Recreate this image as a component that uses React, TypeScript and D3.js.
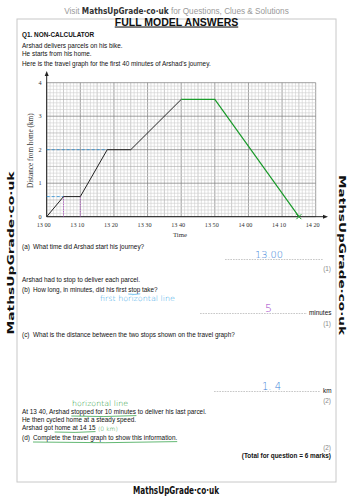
import React from "react";
import * as d3 from "d3";

// Data (minutes after 13:00, distance in km)
const givenTimes = [0, 5, 10, 18, 25, 40];
const givenDist = [0, 0.6, 0.6, 2.0, 2.0, 3.5];
const answerTimes = [40, 50, 75];
const answerDist = [3.5, 3.5, 0];
const xTickLabels = ["13 00", "13 10", "13 20", "13 30", "13 40", "13 50", "14 00", "14 10", "14 20"];
const yTickLabels = ["0", "1", "2", "3", "4"];

const W = 353, H = 500;
const x = d3.scaleLinear().domain([0, 80]).range([46.7, 315.7]);
const y = d3.scaleLinear().domain([0, 4]).range([216.7, 82.7]);

const sans = "'Liberation Sans', Arial, sans-serif";
const serif = "'Liberation Serif', 'Times New Roman', serif";
const hand = "'DejaVu Sans', sans-serif";
const brand = "'DejaVu Sans Condensed', 'DejaVu Sans', sans-serif";

const FS = 6.4;
let ctx: CanvasRenderingContext2D | null = null;
function measure(t: string, size = FS, weight = "normal") {
  if (!ctx) ctx = document.createElement("canvas").getContext("2d");
  if (!ctx) return t.length * size * 0.5;
  ctx.font = `${weight} ${size}px 'Liberation Sans'`;
  return ctx.measureText(t).width;
}

export default function App() {
  const line = d3.line<[number, number]>().x(d => x(d[0])).y(d => y(d[1]));
  const given: [number, number][] = givenTimes.map((t, i) => [t, givenDist[i]]);
  const answer: [number, number][] = answerTimes.map((t, i) => [t, answerDist[i]]);

  const vMinor = d3.range(0, 81, 1);
  const hMinor = d3.range(0, 41, 1);

  const tx = 22;
  const qx = 33;

  const bPre = "How long, in minutes, did his first ";
  const bStopX = qx + measure(bPre);
  const bStopW = measure("stop");
  const dPre = "At 13 40, Arshad ";
  const dStX = tx + measure(dPre);
  const dStW = measure("stopped for 10 minutes");
  const hPre = "Arshad got ";
  const hX = tx + measure(hPre);
  const hW = measure("home at 14 15");
  const cW = measure("Complete the travel graph to show this information.");

  const minor = "#cfcfcf", mid = "#a8a8a8", major = "#888888";

  return (
    <svg width={W} height={H} style={{ position: "absolute", left: 0, top: 0, background: "#fff" }}>
      <rect x={0} y={0} width={W} height={H} fill="#fff" />
      {/* header */}
      <text x={176.5} y={14} textAnchor="middle" fontFamily={sans} fontSize={8.2} fill="#999">
        Visit <tspan fontWeight="bold" fill="#333" fontFamily={brand}>MathsUpGrade·co·uk</tspan> for Questions, Clues &amp; Solutions
      </text>
      <rect x={17} y={19} width={319} height={463} fill="none" stroke="#c8c8c8" strokeWidth={1} />
      <text x={176.5} y={25.5} textAnchor="middle" fontFamily={sans} fontSize={10.5} fontWeight="bold" textDecoration="underline" fill="#111">
        FULL MODEL ANSWERS
      </text>
      {/* side branding */}
      <text transform="translate(14,253) rotate(-90)" textAnchor="middle" fontFamily={brand} fontSize={9.5} fontWeight="bold" fill="#111"
        textLength={163} lengthAdjust="spacingAndGlyphs">MathsUpGrade·co·uk</text>
      <text transform="translate(339,255) rotate(90)" textAnchor="middle" fontFamily={brand} fontSize={9.5} fontWeight="bold" fill="#111"
        textLength={160} lengthAdjust="spacingAndGlyphs">MathsUpGrade·co·uk</text>
      <text x={176} y={494} textAnchor="middle" fontFamily={brand} fontSize={10.5} fontWeight="bold" fill="#111"
        textLength={86} lengthAdjust="spacingAndGlyphs">MathsUpGrade·co·uk</text>

      <g fontFamily={sans} fontSize={FS} fill="#111">
        <text x={tx} y={37} fontWeight="bold">Q1. NON-CALCULATOR</text>
        <text x={tx} y={48}>Arshad delivers parcels on his bike.</text>
        <text x={tx} y={55.5}>He starts from his home.</text>
        <text x={tx} y={65.5}>Here is the travel graph for the first 40 minutes of Arshad's journey.</text>
      </g>

      {/* grid */}
      <g>
        {vMinor.map(v => (
          <line key={"v" + v} x1={x(v)} x2={x(v)} y1={y(0)} y2={y(4)}
            stroke={v % 10 === 0 ? major : v % 5 === 0 ? mid : minor} strokeWidth={v % 10 === 0 ? 0.8 : 0.6} />
        ))}
        {hMinor.map(i => (
          <line key={"h" + i} x1={x(0)} x2={x(80)} y1={y(i / 10)} y2={y(i / 10)}
            stroke={i % 10 === 0 ? major : i % 5 === 0 ? mid : minor} strokeWidth={i % 10 === 0 ? 0.8 : 0.6} />
        ))}
      </g>
      {/* axes */}
      <line x1={x(0)} x2={x(0)} y1={y(0)} y2={74} stroke="#222" strokeWidth={1} />
      <path d={`M${x(0)},71 L${x(0) - 2},76 L${x(0) + 2},76 Z`} fill="#222" />
      <line x1={x(0)} x2={325} y1={y(0)} y2={y(0)} stroke="#222" strokeWidth={1} />
      <path d={`M328,${y(0)} L323,${y(0) - 2} L323,${y(0) + 2} Z`} fill="#222" />

      <g fontFamily={serif} fontSize={6.2} fill="#333">
        {yTickLabels.map((l, i) => (
          <text key={l} x={x(0) - 5} y={y(i) + 2} textAnchor="end">{l}</text>
        ))}
        {xTickLabels.map((l, i) => (
          <text key={l} x={x(i * 10) - 3} y={226.5} textAnchor="middle">{l}</text>
        ))}
        <text x={180} y={237} textAnchor="middle" fontSize={6.8}>Time</text>
        <text transform={`translate(32.5,${y(2) + 1}) rotate(-90)`} textAnchor="middle" fontSize={7.2}>Distance from home (km)</text>
      </g>

      {/* helper lines */}
      <line x1={x(0)} x2={x(18)} y1={y(2)} y2={y(2)} stroke="#2b8fd6" strokeWidth={0.8} strokeDasharray="3,2" />
      <line x1={x(0)} x2={x(5)} y1={y(0.6)} y2={y(0.6)} stroke="#2b8fd6" strokeWidth={0.8} strokeDasharray="3,2" />
      <line x1={x(5)} x2={x(5)} y1={y(0.6)} y2={y(0)} stroke="#b040c8" strokeWidth={0.8} strokeDasharray="1.2,1.2" />
      <line x1={x(10)} x2={x(10)} y1={y(0.6)} y2={y(0)} stroke="#b040c8" strokeWidth={0.8} strokeDasharray="1.2,1.2" />

      <path d={line(given) || ""} fill="none" stroke="#222" strokeWidth={1} />
      <path d={line(answer) || ""} fill="none" stroke="#1a9a2a" strokeWidth={1.2} />
      <g stroke="#1a9a2a" strokeWidth={1}>
        <line x1={x(75) - 2.5} x2={x(75) + 2.5} y1={y(0) - 2.5} y2={y(0) + 2.5} />
        <line x1={x(75) - 2.5} x2={x(75) + 2.5} y1={y(0) + 2.5} y2={y(0) - 2.5} />
      </g>

      {/* questions */}
      <g fontFamily={sans} fontSize={FS} fill="#111">
        <text x={tx} y={249}>(a)</text>
        <text x={qx} y={249}>What time did Arshad start his journey?</text>
        <text x={tx} y={282}>Arshad had to stop to deliver each parcel.</text>
        <text x={tx} y={292}>(b)</text>
        <text x={qx} y={292}>{bPre + "stop take?"}</text>
        <text x={309} y={315}>minutes</text>
        <text x={tx} y={337}>(c)</text>
        <text x={qx} y={337}>What is the distance between the two stops shown on the travel graph?</text>
        <text x={323} y={393}>km</text>
        <text x={tx} y={414}>At 13 40, Arshad stopped for 10 minutes to deliver his last parcel.</text>
        <text x={tx} y={422}>He then cycled home at a steady speed.</text>
        <text x={tx} y={430}>Arshad got home at 14 15</text>
        <text x={tx} y={440}>(d)</text>
        <text x={qx} y={440}>Complete the travel graph to show this information.</text>
        <text x={331} y={458} textAnchor="end" fontWeight="bold">(Total for question = 6 marks)</text>
      </g>
      <g fontFamily={sans} fontSize={FS} fill="#888" textAnchor="end">
        <text x={331} y={271}>(1)</text>
        <text x={331} y={326}>(1)</text>
        <text x={331} y={403}>(2)</text>
        <text x={331} y={450}>(2)</text>
      </g>
      {/* dotted answer lines */}
      <g stroke="#666" strokeWidth={0.6} strokeDasharray="0.6,1">
        <line x1={225} x2={323} y1={259.5} y2={259.5} />
        <line x1={200} x2={307} y1={313.5} y2={313.5} />
        <line x1={214} x2={320} y1={391.5} y2={391.5} />
      </g>
      {/* handwritten answers */}
      <g fontFamily={hand}>
        <text x={255} y={258} fontSize={9} fill="#3a7fd8" fontWeight="200" textLength={28} lengthAdjust="spacingAndGlyphs">13.00</text>
        <text x={100} y={301} fontSize={7.5} fill="#3aa8e8" fontWeight="200" textLength={75} lengthAdjust="spacingAndGlyphs">first horizontal line</text>
        <text x={265} y={312} fontSize={11} fill="#a040c8" fontWeight="200">5</text>
        <text x={262} y={390} fontSize={10} fill="#3a7fd8" fontWeight="200">1. 4</text>
        <text x={72} y={405.5} fontSize={7.5} fill="#1f9a38" fontWeight="200" textLength={56} lengthAdjust="spacingAndGlyphs">horizontal line</text>
        <text x={hX + hW + 2.5} y={430.5} fontSize={6} fill="#1f9a38" fontWeight="200">(0 km)</text>
      </g>
      {/* underlines */}
      <g fill="none" strokeWidth={0.7}>
        <path d={`M${bStopX},294 Q${bStopX + bStopW / 2},295 ${bStopX + bStopW},293.8`} stroke="#3aa8e8" />
        <path d={`M${dStX},416 Q${dStX + dStW / 2},417.3 ${dStX + dStW},415.6`} stroke="#1f9a38" />
        <path d={`M${hX},432 Q${hX + hW / 2},433 ${hX + hW},431.6`} stroke="#1f9a38" />
        <path d={`M${qx},442 Q${qx + cW / 2},443.6 ${qx + cW},441.6`} stroke="#1f9a38" />
      </g>
    </svg>
  );
}
